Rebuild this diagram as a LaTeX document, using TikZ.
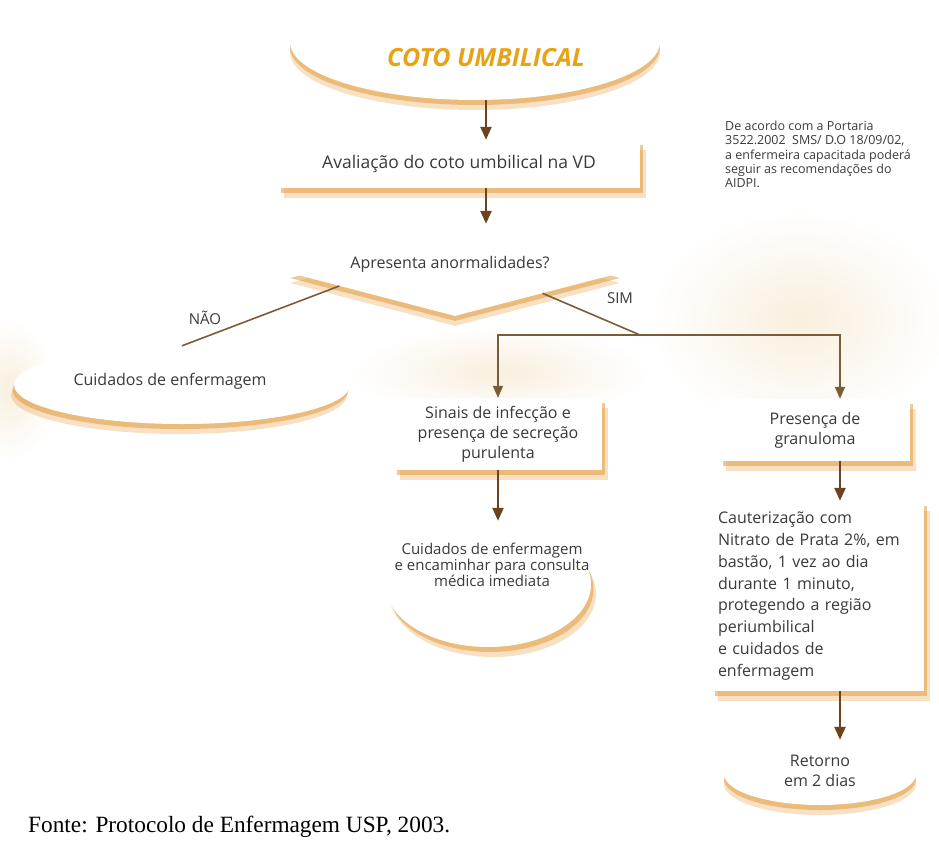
\documentclass[tikz,border=0pt]{standalone}
\usepackage{fontspec}
\setmainfont{Open Sans}
\newfontfamily\fontefont{Liberation Serif}
\usetikzlibrary{arrows.meta,shapes.geometric,shadows,calc}
\definecolor{seta}{HTML}{6B4320}
\definecolor{linha}{HTML}{7A5C38}
\definecolor{titulo}{HTML}{E8A215}
\definecolor{sombra}{HTML}{E39A3C}
\definecolor{texto}{HTML}{3A3A3A}
\definecolor{creme}{HTML}{F7EBD6}
\begin{document}
\begin{tikzpicture}[x=1pt,y=-1pt,
  sombreado/.style={drop shadow={fill=sombra,opacity=.3,shadow xshift=#1,shadow yshift=-10pt},
                    drop shadow={fill=sombra,opacity=.55,shadow xshift=#1/2,shadow yshift=-5pt}},
  caixa/.style={rectangle,fill=white,inner sep=0pt,align=center,text=texto,
    font=\fontsize{16}{20}\selectfont,sombreado=6pt},
  elipse/.style={ellipse,fill=white,inner sep=0pt,sombreado=#1},
  rotulo/.style={text=texto,font=\fontsize{16}{20}\selectfont,align=center},
  seta/.style={draw=seta,line width=2.4pt,-{Triangle[length=13pt,width=11pt]}},
  liga/.style={draw=linha,line width=1.6pt}]
\useasboundingbox (0,0) rectangle (939,867);

% fundo
\shade[inner color=creme,outer color=white,opacity=.8] (800,320) ellipse (150 and 110);
\shade[inner color=creme,outer color=white,opacity=.8] (500,372) ellipse (150 and 45);
\shade[inner color=creme,outer color=white,opacity=.8] (10,390) ellipse (45 and 70);

% forma do titulo
\node[elipse=0pt,minimum width=370,minimum height=116] (topo) at (475,42) {};
\node[text=titulo,font=\fontsize{25}{28}\selectfont\bfseries\itshape] (titulo) at (486,58) {COTO UMBILICAL};

\node[caixa,minimum width=362,minimum height=48,font=\fontsize{17.5}{20}\selectfont] (aval) at (459,164)
  {Avaliação do coto umbilical na VD};

% decisao
\node[diamond,fill=white,inner sep=0pt,minimum width=330,minimum height=86,sombreado=0pt] (dec) at (455,273) {};
\node[rotulo] (dectxt) at (450,264) {Apresenta anormalidades?};

\node[elipse=-3pt,minimum width=336,minimum height=78] (enf) at (182,385) {};
\node[rotulo] (enftxt) at (170,381) {Cuidados de enfermagem};

\node[caixa,minimum width=208,minimum height=72] (sinais) at (498,434)
  {Sinais de infecção e\\presença de secreção\\purulenta};
\node[elipse=5pt,minimum width=206,minimum height=126] (cons) at (488,584) {};
\node[rotulo,font=\fontsize{15}{13.5}\selectfont] (constxt) at (492,565)
  {Cuidados de enfermagem\\e encaminhar para consulta\\médica imediata};

\node[caixa,minimum width=190,minimum height=62] (gran) at (815,430) {Presença de\\granuloma};
\node[caixa,minimum width=212,minimum height=190,align=left,text width=200,
  font=\fontsize{16}{21.8}\selectfont] (caut) at (818,596)
  {Cauterização com\\Nitrato de Prata 2\%, em\\bastão, 1 vez ao dia\\durante 1 minuto,\\protegendo a região\\periumbilical\\e cuidados de\\enfermagem};
\node[elipse=0pt,minimum width=192,minimum height=62] (ret) at (820,774) {};
\node[rotulo] (rettxt) at (820,771) {Retorno\\em 2 dias};

% setas
\draw[seta] (titulo |- topo.south) -- (titulo |- aval.north);
\draw[seta,shorten >=6pt] (titulo |- aval.south) -- (titulo |- dec.north);
\draw[seta] (sinais.south) -- (sinais.south |- cons.north);
\coordinate (coluna) at (840,0);
\draw[seta] (coluna |- gran.south) -- (coluna |- caut.north);
\draw[seta,shorten >=3pt] (coluna |- caut.south) -- (coluna |- ret.north);

% ligacoes
\coordinate (split) at (640,335);
\draw[liga] ($(dec.west)!0.3!(dec.south)$) -- (enf.north);
\draw[liga] ($(dec.south)!0.53!(dec.east)$) -- (split);
\draw[liga,-{Triangle[length=12pt,width=10pt]}] (split) -| (sinais.north);
\draw[liga,-{Triangle[length=12pt,width=10pt]}] (split) -| (coluna |- gran.north);
\node[text=texto,font=\fontsize{15}{18}\selectfont] (nao) at (205,318) {NÃO};
\node[text=texto,font=\fontsize{15}{18}\selectfont] (sim) at (620,298) {SIM};

% nota
\node[anchor=north west,align=left,text=texto,inner sep=0pt,
  font=\fontsize{12.5}{14.3}\selectfont] (nota) at (725,121)
  {De acordo com a Portaria\\3522.2002\ \ SMS/ D.O 18/09/02,\\a enfermeira capacitada poderá\\seguir as recomendações do\\AIDPI.};

\node[anchor=west,inner sep=0pt,font=\fontefont\fontsize{23.3}{26}\selectfont] (fonte) at (28,827)
  {Fonte: Protocolo de Enfermagem USP, 2003.};
\end{tikzpicture}
\end{document}
